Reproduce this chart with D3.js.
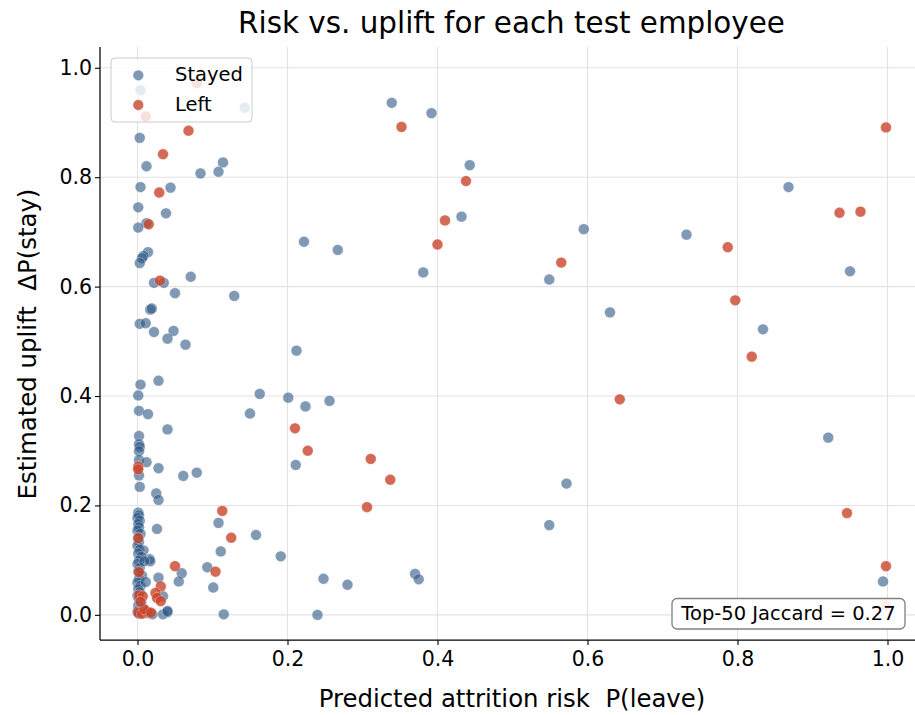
<!DOCTYPE html>
<html><head><meta charset="utf-8">
<script src="https://cdn.jsdelivr.net/npm/d3@7"></script>
<style>body{margin:0;background:#fff}svg{display:block;font-family:"DejaVu Sans",sans-serif}text{white-space:pre}</style>
</head><body><svg id="c" width="915" height="715"></svg>
<script>
const title = "Risk vs. uplift for each test employee";
const xLabel = "Predicted attrition risk  P(leave)";
const yLabel = "Estimated uplift  ΔP(stay)";
const seriesNames = ["Stayed", "Left"];
const annotation = "Top-50 Jaccard = 0.27";
const xTicks = [0, 0.2, 0.4, 0.6, 0.8, 1.0];
const yTicks = [0, 0.2, 0.4, 0.6, 0.8, 1.0];

const stayedX = [0.339,0.392,0.443,0.432,0.222,0.267,0.381,0.595,0.549,0.630,
0.212,0.201,0.224,0.256,0.211,0.191,0.248,0.280,0.370,0.375,0.240,0.572,0.549,
0.868,0.732,0.950,0.834,0.921,0.994,
0.004,0.143,0.003,0.012,0.114,0.084,0.108,
0.004,0.044,0.001,0.038,0.012,0.001,0.014,0.008,0.006,0.003,0.022,0.035,0.071,0.050,0.129,0.017,0.019,0.003,0.011,0.022,0.048,0.040,0.064,
0.004,0.028,0.001,0.163,0.002,0.014,0.150,0.040,
0.002,0.002,0.003,0.002,0.002,0.012,0.028,0.002,0.061,0.079,0.003,0.025,0.028,
0.158,0.108,0.111,0.093,0.101,0.115,
0.026,0.008,0.016,0.017,0.059,0.055,0.028,0.034,0.034,0.040,0.040,
0.001,0.002,0.000,0.003,0.001,0.002,0.000,0.004,0.001,0.002,0.000,0.003,0.001,0.005,0.002,0.000,0.003,0.001,0.006,0.002,0.000,0.004,0.001,0.003,0.000,0.002,0.005,0.001,0.003,0.000,0.002,0.009,0.011,0.007,0.014,0.020];
const stayedY = [0.936,0.917,0.822,0.728,0.682,0.667,0.626,0.705,0.613,0.553,
0.483,0.397,0.381,0.391,0.274,0.107,0.066,0.055,0.075,0.065,0.000,0.240,0.164,
0.782,0.695,0.628,0.522,0.324,0.061,
0.959,0.927,0.872,0.820,0.827,0.807,0.810,
0.782,0.781,0.745,0.734,0.716,0.708,0.663,0.656,0.652,0.643,0.607,0.607,0.618,0.588,0.583,0.558,0.560,0.532,0.533,0.517,0.519,0.505,0.494,
0.421,0.428,0.401,0.404,0.373,0.367,0.368,0.339,
0.327,0.312,0.307,0.299,0.283,0.279,0.268,0.255,0.254,0.260,0.234,0.222,0.210,
0.146,0.168,0.116,0.087,0.050,0.001,
0.157,0.118,0.102,0.098,0.076,0.061,0.068,0.034,0.001,0.005,0.007,
0.187,0.182,0.177,0.172,0.166,0.160,0.154,0.148,0.141,0.133,0.126,0.119,0.112,0.106,0.099,0.093,0.086,0.079,0.072,0.066,0.059,0.053,0.047,0.041,0.035,0.029,0.023,0.017,0.011,0.006,0.002,0.098,0.060,0.012,0.003,0.001];

const leftX = [0.352,0.438,0.410,0.400,0.565,0.210,0.227,0.311,0.337,0.306,0.643,
0.998,0.936,0.964,0.787,0.797,0.819,0.946,0.998,0.998,
0.011,0.079,0.068,0.034,0.029,0.015,0.030,
0.001,0.001,0.113,0.125,0.104,0.050,0.001,0.002,0.031,0.024,0.026,0.031,0.002,0.007,0.001,0.006,0.013,0.009,0.018,0.004];
const leftY = [0.892,0.793,0.721,0.677,0.644,0.341,0.300,0.285,0.247,0.197,0.394,
0.891,0.735,0.737,0.672,0.575,0.472,0.186,0.089,0.017,
0.911,0.972,0.885,0.842,0.772,0.714,0.611,
0.271,0.266,0.190,0.141,0.079,0.089,0.140,0.078,0.052,0.040,0.031,0.025,0.036,0.034,0.004,0.002,0.006,0.010,0.004,0.024];

const colors = {Stayed: "#2c5584", Left: "#c9452a"};
const alphas = {Stayed: 0.6, Left: 0.8};

const svg = d3.select("#c");
const x = d3.scaleLinear().domain([-0.05, 1.05]).range([100, 925]);
const y = d3.scaleLinear().domain([-0.046, 1.038]).range([640, 47]);

// grid
const g = svg.append("g");
g.selectAll("line.gx").data(xTicks).join("line")
  .attr("x1", d => x(d)).attr("x2", d => x(d)).attr("y1", 47).attr("y2", 640)
  .attr("stroke", "#e3e3e3").attr("stroke-width", 1.1);
g.selectAll("line.gy").data(yTicks).join("line")
  .attr("x1", 100).attr("x2", 925).attr("y1", d => y(d)).attr("y2", d => y(d))
  .attr("stroke", "#e3e3e3").attr("stroke-width", 1.1);

// points
const stayed = stayedX.map((v, i) => ({x: v, y: stayedY[i], s: "Stayed"}));
const left = leftX.map((v, i) => ({x: v, y: leftY[i], s: "Left"}));
svg.append("g").selectAll("circle").data(stayed.concat(left)).join("circle")
  .attr("cx", d => x(d.x)).attr("cy", d => y(d.y)).attr("r", 5.4)
  .attr("fill", d => colors[d.s]).attr("fill-opacity", d => alphas[d.s])
  .attr("stroke", "#fff").attr("stroke-opacity", 0.6).attr("stroke-width", 0.5);

// axes
const xAxis = d3.axisBottom(x).tickValues(xTicks).tickFormat(d3.format(".1f")).tickSizeOuter(0).tickSize(5).tickPadding(6);
const yAxis = d3.axisLeft(y).tickValues(yTicks).tickFormat(d3.format(".1f")).tickSizeOuter(0).tickSize(5).tickPadding(3);
const xa = svg.append("g").attr("transform", "translate(0,640)").call(xAxis);
const ya = svg.append("g").attr("transform", "translate(100,0)").call(yAxis);
[xa, ya].forEach(a => {
  a.select(".domain").attr("stroke", "#000").attr("stroke-width", 1.25);
  a.selectAll(".tick line").attr("stroke", "#000").attr("stroke-width", 1.1);
  a.selectAll(".tick text").attr("font-size", 20.5).attr("fill", "#000").attr("font-family", "DejaVu Sans");
});
xa.select(".domain").attr("d", "M100,0H925");
ya.select(".domain").attr("d", "M0,47V640");

// labels
svg.append("text").attr("x", 511.5).attr("y", 33).attr("text-anchor", "middle")
  .attr("font-size", 29.4).attr("fill", "#000").text(title);
svg.append("text").attr("x", 512).attr("y", 707).attr("text-anchor", "middle")
  .attr("font-size", 24.4).attr("fill", "#000").text(xLabel);
svg.append("text").attr("transform", "translate(36,344) rotate(-90)").attr("text-anchor", "middle")
  .attr("font-size", 24.4).attr("fill", "#000").text(yLabel);

// legend
const lg = svg.append("g");
lg.append("rect").attr("x", 111).attr("y", 58).attr("width", 141).attr("height", 64).attr("rx", 4)
  .attr("fill", "#fff").attr("fill-opacity", 0.8).attr("stroke", "#cccccc").attr("stroke-width", 1);
seriesNames.forEach((s, i) => {
  const cy = 75.3 + i * 29.7;
  lg.append("circle").attr("cx", 138.3).attr("cy", cy).attr("r", 5.4)
    .attr("fill", colors[s]).attr("fill-opacity", alphas[s]).attr("stroke", "#fff").attr("stroke-width", 0.5);
  lg.append("text").attr("x", 175).attr("y", cy + 5.5).attr("font-size", 19.5).attr("fill", "#000").text(s);
});

// annotation
const ag = svg.append("g");
ag.append("rect").attr("x", 672).attr("y", 598.5).attr("width", 233).attr("height", 30.5).attr("rx", 5)
  .attr("fill", "#fff").attr("fill-opacity", 0.9).attr("stroke", "#808080").attr("stroke-width", 1.3);
ag.append("text").attr("x", 788.5).attr("y", 620).attr("text-anchor", "middle")
  .attr("font-size", 19.5).attr("fill", "#000").text(annotation);
</script></body></html>
